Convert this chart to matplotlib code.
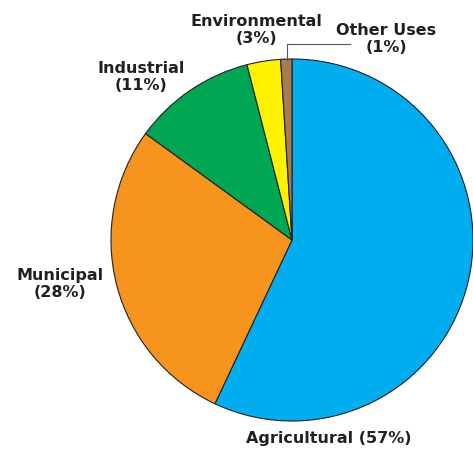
import matplotlib
matplotlib.use("Agg")
import matplotlib.pyplot as plt

# water use shares, clockwise from the top
categories = ["Agricultural", "Municipal", "Industrial", "Environmental", "Other Uses"]
shares = [57, 28, 11, 3, 1]
colors = ["#00AEEF", "#F7941D", "#00A651", "#FFF200", "#A67C52"]

W, H = 473, 450
fig = plt.figure(figsize=(W / 100, H / 100), dpi=100)
ax = fig.add_axes([0, 0, 1, 1])

cx, cy, r = 292, H - 240, 181
ax.pie(shares, colors=colors, startangle=90, counterclock=False,
       center=(cx, cy), radius=r, frame=True,
       wedgeprops={"edgecolor": "#231F20", "linewidth": 0.8})
ax.set_xlim(0, W)
ax.set_ylim(0, H)
ax.set_aspect("equal")
ax.axis("off")

txt = dict(fontsize=11.5, fontweight="bold", color="#231F20",
           ha="center", va="center", linespacing=1.1)

label_pos = {
    "Agricultural": (329, 438, False),
    "Municipal": (60, 284, True),
    "Industrial": (141, 77, True),
    "Environmental": (256, 30, True),
    "Other Uses": (386, 39, True),
}
for name, s in zip(categories, shares):
    x, y, two = label_pos[name]
    sep = "\n" if two else " "
    ax.text(x, H - y, f"{name}{sep}({s}%)", **txt)

# leader line for the thin slice
ax.plot([287, 287, 350], [H - 60, H - 44, H - 44], color="#555555", lw=0.8)

fig.savefig("out.png", dpi=100)
